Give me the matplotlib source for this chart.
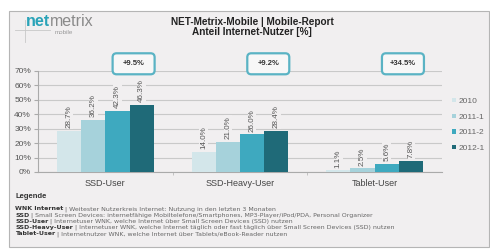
import matplotlib
matplotlib.use("Agg")
import matplotlib.pyplot as plt
from matplotlib.patches import Rectangle, FancyBboxPatch
import matplotlib.transforms as mtransforms
import numpy as np

categories = ["SSD-User", "SSD-Heavy-User", "Tablet-User"]
series_names = ["2010", "2011-1", "2011-2", "2012-1"]
values = {
    "2010":   [28.7, 14.0, 1.1],
    "2011-1": [36.2, 21.0, 2.5],
    "2011-2": [42.3, 26.0, 5.6],
    "2012-1": [46.3, 28.4, 7.8],
}
growth_labels = ["+9.5%", "+9.2%", "+34.5%"]
yticks = [0, 10, 20, 30, 40, 50, 60, 70]
legend_terms = ["WNK Internet", "SSD", "SSD-User", "SSD-Heavy-User", "Tablet-User"]
legend_desc = [
    "Weitester Nutzerkreis Internet: Nutzung in den letzten 3 Monaten",
    "Small Screen Devices: internetfähige Mobiltelefone/Smartphones, MP3-Player/iPod/PDA, Personal Organizer",
    "Internetuser WNK, welche Internet über Small Screen Devices (SSD) nutzen",
    "Internetuser WNK, welche Internet täglich oder fast täglich über Small Screen Devices (SSD) nutzen",
    "Internetnutzer WNK, welche Internet über Tablets/eBook-Reader nutzen",
]

colors = ["#d3e6ea", "#a6d2db", "#3ea9bf", "#1f6a78"]
panel_bg = "#f1eff0"

plt.rcParams["font.family"] = ["Liberation Sans", "DejaVu Sans"]

W, H = 490, 250
fig = plt.figure(figsize=(W / 100, H / 100), dpi=100)
fig.patch.set_facecolor("white")
fig.patches.append(Rectangle((9 / W, 1 - 247 / H), 480 / W, 236 / H, transform=fig.transFigure,
                             facecolor=panel_bg, edgecolor="#b5b5b5", linewidth=0.8, zorder=-10))

ax = fig.add_axes([38 / W, 1 - 172 / H, 404 / W, 101 / H])
ax.set_facecolor("none")

x = np.arange(len(categories))
bw = 0.18
for j, name in enumerate(series_names):
    pos = x + (j - 1.5) * bw
    ax.bar(pos, values[name], width=bw, color=colors[j], label=name, zorder=3)
    for px, v in zip(pos, values[name]):
        ax.text(px, v + 2.0, f"{v:.1f}%", rotation=90, ha="center", va="bottom",
                fontsize=5.8, color="#555555", zorder=4,
                bbox=dict(facecolor=panel_bg, edgecolor="none", pad=0.6))

ax.set_xlim(-0.5, 2.5)
ax.set_ylim(0, 70)
ax.set_yticks(yticks)
ax.set_yticklabels([f"{t}%" for t in yticks], fontsize=6, color="#555555")
ax.yaxis.grid(True, color="#c9c9c9", linewidth=0.8, zorder=0)
ax.set_axisbelow(True)
ax.set_xticks(x)
ax.set_xticklabels(categories, fontsize=6.5, color="#444444")
ax.tick_params(axis="x", length=0, pad=5)
ax.set_xticks([0.5, 1.5], minor=True)
ax.tick_params(axis="x", which="minor", length=2, color="#bbbbbb", direction="out")
ax.tick_params(axis="y", length=3, color="#aaaaaa", pad=2)
for s in ["top", "right"]:
    ax.spines[s].set_visible(False)
ax.spines["left"].set_color("#aaaaaa")
ax.spines["bottom"].set_color("#aaaaaa")
ax.spines["left"].set_linewidth(0.8)
ax.spines["bottom"].set_linewidth(0.8)

# growth boxes (42x21 px) anchored at data position above each group
for i, g in enumerate(growth_labels):
    bx, by = i + 0.21, 75.0
    tr = mtransforms.Affine2D() + mtransforms.ScaledTranslation(bx, by, ax.transData)
    box = FancyBboxPatch((-21, -10.5), 42, 21, boxstyle="round,pad=0,rounding_size=4",
                         transform=tr, facecolor="#f7f7f7", edgecolor="#5ab3c4",
                         linewidth=1.6, clip_on=False, zorder=5)
    ax.add_artist(box)
    ax.text(bx, by, g, ha="center", va="center", fontsize=5.5, fontweight="bold",
            color="#333333", clip_on=False, zorder=6)

leg = ax.legend(loc="upper left", bbox_to_anchor=(452 / W, 1 - 98 / H), bbox_transform=fig.transFigure,
                frameon=False, fontsize=6, handlelength=0.45, handleheight=0.45,
                handletextpad=0.3, labelspacing=1.0, borderaxespad=0, borderpad=0)
for t in leg.get_texts():
    t.set_color("#666666")

fig.text(252 / W, 1 - 22 / H, "NET-Metrix-Mobile | Mobile-Report", ha="center", va="center",
         fontsize=7.2, fontweight="bold", color="#222222")
fig.text(252 / W, 1 - 32 / H, "Anteil Internet-Nutzer [%]", ha="center", va="center",
         fontsize=7.2, fontweight="bold", color="#222222")

# logo
fig.add_artist(plt.Line2D([15 / W, 50 / W], [1 - 30 / H, 1 - 30 / H], color="#c8c8c8", lw=0.6,
                          transform=fig.transFigure))
fig.add_artist(plt.Line2D([25 / W, 25 / W], [1 - 20 / H, 1 - 42 / H], color="#c8c8c8", lw=0.6,
                          transform=fig.transFigure))
t1 = fig.text(26 / W, 1 - 22 / H, "net", ha="left", va="center", fontsize=11.5, fontweight="bold",
              color="#2aa3b8")
fig.canvas.draw()
r = fig.canvas.get_renderer()
bb = t1.get_window_extent(r)
fig.text(bb.x1 / W, 1 - 22 / H, "metrix", ha="left", va="center", fontsize=11.5, color="#8a8a8a")
fig.text(64 / W, 1 - 33 / H, "mobile", ha="center", va="center", fontsize=4.5, color="#999999")

fig.text(15 / W, 1 - 197 / H, "Legende", ha="left", va="center", fontsize=5.5, fontweight="bold",
         color="#333333")
ys = [209, 215.2, 221.4, 227.6, 233.8]
for term, desc, yy in zip(legend_terms, legend_desc, ys):
    tb = fig.text(15 / W, 1 - yy / H, term, ha="left", va="center", fontsize=4.5,
                  fontweight="bold", color="#333333", family="DejaVu Sans")
    fig.canvas.draw()
    e = tb.get_window_extent(fig.canvas.get_renderer())
    fig.text(e.x1 / W, 1 - yy / H, " | " + desc, ha="left", va="center", fontsize=4.5,
             color="#666666", family="DejaVu Sans")

fig.savefig("out.png", dpi=100, facecolor=fig.get_facecolor())
